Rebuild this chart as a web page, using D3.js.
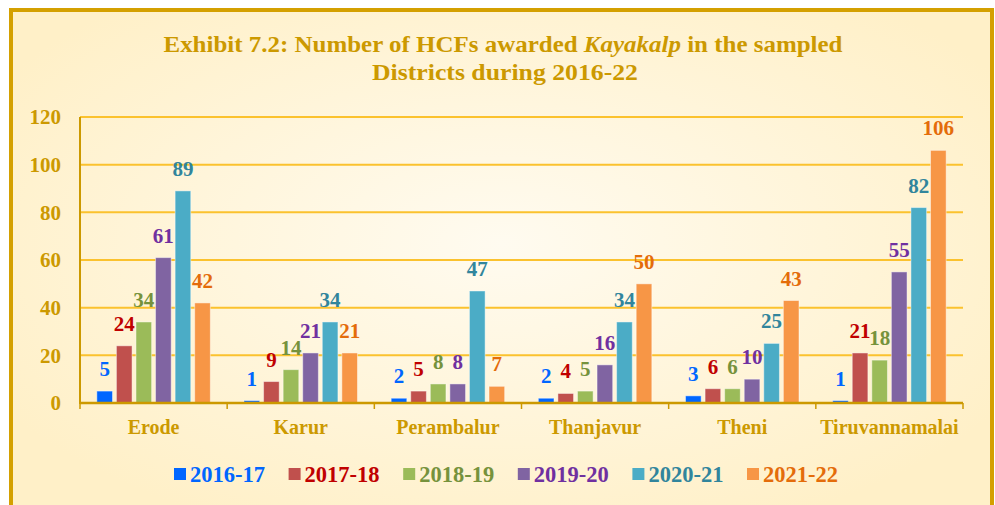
<!DOCTYPE html>
<html>
<head>
<meta charset="utf-8">
<script src="https://cdn.jsdelivr.net/npm/d3@7"></script>
<style>
  body { margin: 0; background: #fff; }
  text { font-family: "Liberation Serif", "Times New Roman", serif; font-weight: bold; }
</style>
</head>
<body>
<script>
// chart data
var districts = ["Erode", "Karur", "Perambalur", "Thanjavur", "Theni", "Tiruvannamalai"];
var years = ["2016-17", "2017-18", "2018-19", "2019-20", "2020-21", "2021-22"];
var v2016 = [5, 1, 2, 2, 3, 1];
var v2017 = [24, 9, 5, 4, 6, 21];
var v2018 = [34, 14, 8, 5, 6, 18];
var v2019 = [61, 21, 8, 16, 10, 55];
var v2020 = [89, 34, 47, 34, 25, 82];
var v2021 = [42, 21, 7, 50, 43, 106];
var yTicks = [0, 20, 40, 60, 80, 100, 120];

var seriesValues = [v2016, v2017, v2018, v2019, v2020, v2021];
var barColors = ["#0066FF", "#C0504D", "#9BBB59", "#8064A2", "#4BACC6", "#F79646"];
var labelColors = ["#0066FF", "#C00000", "#76923C", "#7030A0", "#31859C", "#E46C0A"];

var W = 995, H = 505;
var margin = {top: 117, left: 80, right: 32, bottom: 102};
var width = W - margin.left - margin.right,
    height = H - margin.top - margin.bottom;

var svg = d3.select("body").append("svg")
    .attr("width", W)
    .attr("height", H);

// background gradient
var defs = svg.append("defs");
var grad = defs.append("radialGradient")
    .attr("id", "bg")
    .attr("cx", "50%").attr("cy", "45%").attr("r", "60%");
grad.append("stop").attr("offset", "0%").attr("stop-color", "#FFFBF0");
grad.append("stop").attr("offset", "100%").attr("stop-color", "#FFF0C8");

svg.append("rect")
    .attr("x", 11).attr("y", 10)
    .attr("width", 981).attr("height", 520)
    .attr("fill", "url(#bg)")
    .attr("stroke", "#D4A000")
    .attr("stroke-width", 4);

// title
var title = svg.append("g").attr("fill", "#CC9900");
var t1 = title.append("text")
    .attr("x", 503).attr("y", 52)
    .attr("text-anchor", "middle")
    .style("font-size", "23px")
    .attr("textLength", 679)
    .attr("lengthAdjust", "spacingAndGlyphs");
t1.append("tspan").text("Exhibit 7.2: Number of HCFs awarded ");
t1.append("tspan").style("font-style", "italic").text("Kayakalp");
t1.append("tspan").text(" in the sampled");
title.append("text")
    .attr("x", 505).attr("y", 80)
    .attr("text-anchor", "middle")
    .style("font-size", "23px")
    .attr("textLength", 266)
    .attr("lengthAdjust", "spacingAndGlyphs")
    .text("Districts during 2016-22");

var g = svg.append("g")
    .attr("transform", "translate(" + margin.left + "," + margin.top + ")");

// scales
var x0 = d3.scaleBand()
    .domain(districts)
    .range([0, width]);

var x1 = d3.scaleBand()
    .domain(years)
    .range([0, x0.bandwidth()])
    .paddingInner(0.2)
    .paddingOuter(0.86);

var y = d3.scaleLinear()
    .domain([0, 120])
    .range([height, 0]);

// gridlines
g.append("g")
    .selectAll("line")
    .data(yTicks.filter(d => d > 0))
    .enter().append("line")
    .attr("x1", 0).attr("x2", width)
    .attr("y1", d => y(d)).attr("y2", d => y(d))
    .attr("stroke", "#FBC22E")
    .attr("stroke-width", 2);

// y axis labels
g.append("g")
    .selectAll("text")
    .data(yTicks)
    .enter().append("text")
    .attr("x", -19)
    .attr("y", d => y(d))
    .attr("dy", "0.35em")
    .attr("text-anchor", "end")
    .attr("fill", "#CC9900")
    .style("font-size", "21px")
    .text(d => d);

// bars
var groups = g.selectAll(".district")
    .data(districts)
    .enter().append("g")
    .attr("class", "district")
    .attr("transform", d => "translate(" + x0(d) + ",0)");

groups.selectAll("rect")
    .data((d, i) => years.map((yr, j) => ({yr: yr, j: j, v: seriesValues[j][i]})))
    .enter().append("rect")
    .attr("x", d => x1(d.yr))
    .attr("y", d => y(d.v))
    .attr("width", x1.bandwidth())
    .attr("height", d => height - y(d.v))
    .attr("fill", d => barColors[d.j])
    .attr("stroke", "rgba(255,255,255,0.45)")
    .attr("stroke-width", 1);

groups.selectAll(".val")
    .data((d, i) => years.map((yr, j) => ({yr: yr, j: j, v: seriesValues[j][i]})))
    .enter().append("text")
    .attr("class", "val")
    .attr("x", d => x1(d.yr) + x1.bandwidth() / 2)
    .attr("y", d => y(d.v) - 15)
    .attr("text-anchor", "middle")
    .attr("fill", d => labelColors[d.j])
    .style("font-size", "21px")
    .text(d => d.v);

// x axis
var xAxis = g.append("g")
    .attr("transform", "translate(0," + height + ")");
xAxis.append("line")
    .attr("x1", 0).attr("x2", width)
    .attr("stroke", "#CC9900").attr("stroke-width", 2.5);
xAxis.selectAll(".tick")
    .data(districts.concat(["end"]))
    .enter().append("line")
    .attr("x1", (d, i) => i * x0.step())
    .attr("x2", (d, i) => i * x0.step())
    .attr("y1", 0).attr("y2", 6)
    .attr("stroke", "#CC9900").attr("stroke-width", 1.5);
xAxis.selectAll(".cat")
    .data(districts)
    .enter().append("text")
    .attr("x", d => x0(d) + x0.bandwidth() / 2)
    .attr("y", 31)
    .attr("text-anchor", "middle")
    .attr("fill", "#CC9900")
    .style("font-size", "20px")
    .text(d => d);

// y axis line
g.append("line")
    .attr("x1", 0).attr("x2", 0)
    .attr("y1", 0).attr("y2", height + 1)
    .attr("stroke", "#CC9900").attr("stroke-width", 2);

// legend
var legend = svg.append("g")
    .attr("transform", "translate(174,468)");
var items = legend.selectAll("g")
    .data(years)
    .enter().append("g")
    .attr("transform", (d, i) => "translate(" + (i * 114.6) + ",0)");
items.append("rect")
    .attr("width", 12).attr("height", 12)
    .attr("fill", (d, i) => barColors[i]);
items.append("text")
    .attr("x", 16).attr("y", 13.5)
    .attr("fill", (d, i) => labelColors[i])
    .style("font-size", "23px")
    .attr("textLength", 75)
    .attr("lengthAdjust", "spacingAndGlyphs")
    .text(d => d);
</script>
</body>
</html>
